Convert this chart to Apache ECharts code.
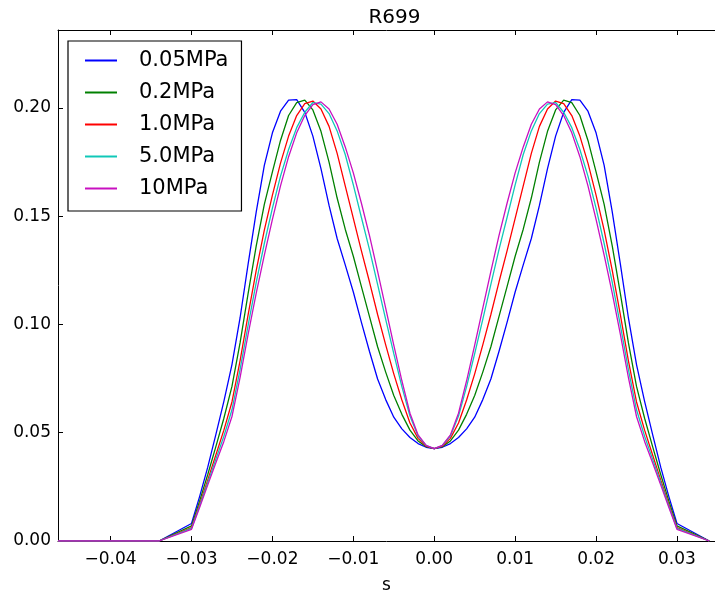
<!DOCTYPE html>
<html>
<head>
<meta charset="utf-8">
<script src="https://cdn.jsdelivr.net/npm/echarts@6/dist/echarts.min.js"></script>
<style>html,body{margin:0;padding:0;background:#fff;}#c{width:715px;height:599px;}</style>
</head>
<body>
<div id="c"></div>
<script>
const titleText = 'R699';
const xName = 's';
const seriesNames = ['0.05MPa', '0.2MPa', '1.0MPa', '5.0MPa', '10MPa'];
const seriesColors = ['#0000ff', '#008000', '#ff0000', '#10c8b8', '#c810c0'];

const sValues = [-0.0465, -0.034,
  -0.030, -0.029, -0.028, -0.027, -0.026, -0.025, -0.024, -0.023, -0.022, -0.021,
  -0.020, -0.019, -0.018, -0.017, -0.016, -0.015, -0.014, -0.013, -0.012, -0.011,
  -0.010, -0.009, -0.008, -0.007, -0.006, -0.005, -0.004, -0.003, -0.002, -0.001,
  0.000,
  0.001, 0.002, 0.003, 0.004, 0.005, 0.006, 0.007, 0.008, 0.009, 0.010,
  0.011, 0.012, 0.013, 0.014, 0.015, 0.016, 0.017, 0.018, 0.019, 0.020,
  0.021, 0.022, 0.023, 0.024, 0.025, 0.026, 0.027, 0.028, 0.029, 0.030,
  0.034];

const p005 = [0, 0,
  0.0081,0.0205,0.0340,0.0490,0.0645,0.0815,0.1030,0.1280,0.1520,0.1735,
  0.1885,0.1985,0.2036,0.2038,0.1980,0.1870,0.1720,0.1550,0.1397,0.1275,
  0.1150,0.1010,0.0875,0.0748,0.0653,0.0572,0.0518,0.0478,0.0450,0.0433,
  0.0427,
  0.0433,0.0450,0.0478,0.0518,0.0572,0.0653,0.0748,0.0875,0.1010,0.1150,
  0.1275,0.1397,0.1550,0.1720,0.1870,0.1980,0.2038,0.2036,0.1985,0.1885,
  0.1735,0.1520,0.1280,0.1030,0.0815,0.0645,0.0490,0.0340,0.0205,0.0081,
  0];

const p02 = [0, 0,
  0.0070,0.0184,0.0306,0.0435,0.0567,0.0714,0.0915,0.1144,0.1363,0.1555,
  0.1705,0.1850,0.1965,0.2025,0.2036,0.1991,0.1892,0.1750,0.1584,0.1440,
  0.1315,0.1175,0.1036,0.0897,0.0780,0.0672,0.0585,0.0512,0.0462,0.0436,
  0.0427,
  0.0436,0.0462,0.0512,0.0585,0.0672,0.0780,0.0897,0.1036,0.1175,0.1315,
  0.1440,0.1584,0.1750,0.1892,0.1991,0.2036,0.2025,0.1965,0.1850,0.1705,
  0.1555,0.1363,0.1144,0.0915,0.0714,0.0567,0.0435,0.0306,0.0184,0.0070,
  0];

const p10 = [0, 0,
  0.0062,0.0169,0.0281,0.0396,0.0512,0.0642,0.0832,0.1046,0.1250,0.1436,
  0.1597,0.1745,0.1870,0.1965,0.2020,0.2032,0.1995,0.1915,0.1790,0.1640,
  0.1490,0.1340,0.1196,0.1046,0.0906,0.0772,0.0651,0.0545,0.0474,0.0438,
  0.0427,
  0.0438,0.0474,0.0545,0.0651,0.0772,0.0906,0.1046,0.1196,0.1340,0.1490,
  0.1640,0.1790,0.1915,0.1995,0.2032,0.2020,0.1965,0.1870,0.1745,0.1597,
  0.1436,0.1250,0.1046,0.0832,0.0642,0.0512,0.0396,0.0281,0.0169,0.0062,
  0];

const p50 = [0, 0,
  0.0058,0.0162,0.0269,0.0377,0.0484,0.0606,0.0791,0.0997,0.1194,0.1374,
  0.1537,0.1685,0.1808,0.1909,0.1980,0.2025,0.2018,0.1974,0.1894,0.1785,
  0.1645,0.1494,0.1346,0.1185,0.1024,0.0865,0.0713,0.0577,0.0485,0.0441,
  0.0427,
  0.0441,0.0485,0.0577,0.0713,0.0865,0.1024,0.1185,0.1346,0.1494,0.1645,
  0.1785,0.1894,0.1974,0.2018,0.2025,0.1980,0.1909,0.1808,0.1685,0.1537,
  0.1374,0.1194,0.0997,0.0791,0.0606,0.0484,0.0377,0.0269,0.0162,0.0058,
  0];

const p100 = [0, 0,
  0.0054,0.0155,0.0258,0.0360,0.0460,0.0575,0.0755,0.0955,0.1145,0.1320,
  0.1485,0.1640,0.1775,0.1885,0.1965,0.2015,0.2028,0.1995,0.1925,0.1820,
  0.1700,0.1560,0.1410,0.1245,0.1075,0.0905,0.0740,0.0590,0.0490,0.0442,
  0.0427,
  0.0442,0.0490,0.0590,0.0740,0.0905,0.1075,0.1245,0.1410,0.1560,0.1700,
  0.1820,0.1925,0.1995,0.2028,0.2015,0.1965,0.1885,0.1775,0.1640,0.1485,
  0.1320,0.1145,0.0955,0.0755,0.0575,0.0460,0.0360,0.0258,0.0155,0.0054,
  0];

const allSeries = [p005, p02, p10, p50, p100];

const FONT = 'DejaVu Sans';
const xMin = -0.0465, xMax = 0.0347;
const yMin = 0, yMax = 0.236, yStep = 0.05;

function fmtX(v) {
  if (Math.abs(v) < 1e-9) return '0.00';
  return (v < 0 ? '\u2212' : '') + Math.abs(v).toFixed(2);
}

const chart = echarts.init(document.getElementById('c'), null, {renderer: 'canvas'});
const axisLine = {show: true, onZero: false, lineStyle: {color: '#000', width: 1}};
chart.setOption({
  animation: false,
  backgroundColor: '#fff',
  title: {
    text: titleText, left: 389.5, top: 3, textAlign: 'center',
    textStyle: {fontFamily: FONT, fontSize: 20, fontWeight: 'normal', color: '#000'}
  },
  grid: {left: 58, top: 30, right: -6, bottom: 54, containLabel: false},
  legend: {
    orient: 'vertical', left: 68, top: 41,
    padding: [9, 13, 12, 17],
    borderColor: '#000', borderWidth: 1.2, backgroundColor: '#fff',
    itemWidth: 32, itemHeight: 2, itemGap: 11, icon: 'rect',
    textStyle: {fontFamily: FONT, fontSize: 21, color: '#000', padding: [0, 0, 0, 17]},
    data: seriesNames
  },
  xAxis: [{
    type: 'value', min: xMin, max: xMax, splitNumber: 8,
    name: xName, nameLocation: 'middle', nameGap: 36,
    nameTextStyle: {fontFamily: FONT, fontSize: 17, color: '#000'},
    axisLine: axisLine,
    axisTick: {show: true, inside: true, length: 5, lineStyle: {color: '#000'}},
    axisLabel: {fontFamily: FONT, fontSize: 17, color: '#000', margin: 10,
      showMinLabel: false, showMaxLabel: false, formatter: fmtX},
    splitLine: {show: false}
  }, {
    type: 'value', position: 'top', min: xMin, max: xMax, splitNumber: 8,
    axisLine: axisLine,
    axisTick: {show: true, inside: true, length: 5, lineStyle: {color: '#000'}},
    axisLabel: {show: false},
    splitLine: {show: false}
  }],
  yAxis: [{
    type: 'value', min: yMin, max: yMax, interval: yStep,
    axisLine: axisLine,
    axisTick: {show: true, inside: true, length: 5, lineStyle: {color: '#000'}},
    axisLabel: {fontFamily: FONT, fontSize: 17, color: '#000', margin: 7,
      showMaxLabel: false, formatter: v => v.toFixed(2)},
    splitLine: {show: false}
  }],
  series: allSeries.map((vals, k) => ({
    name: seriesNames[k], type: 'line', xAxisIndex: 0, yAxisIndex: 0,
    showSymbol: false, symbol: 'none', smooth: false,
    color: seriesColors[k],
    lineStyle: {color: seriesColors[k], width: 1.3},
    data: sValues.map((s, i) => [s, vals[i]])
  }))
});
</script>
</body>
</html>
